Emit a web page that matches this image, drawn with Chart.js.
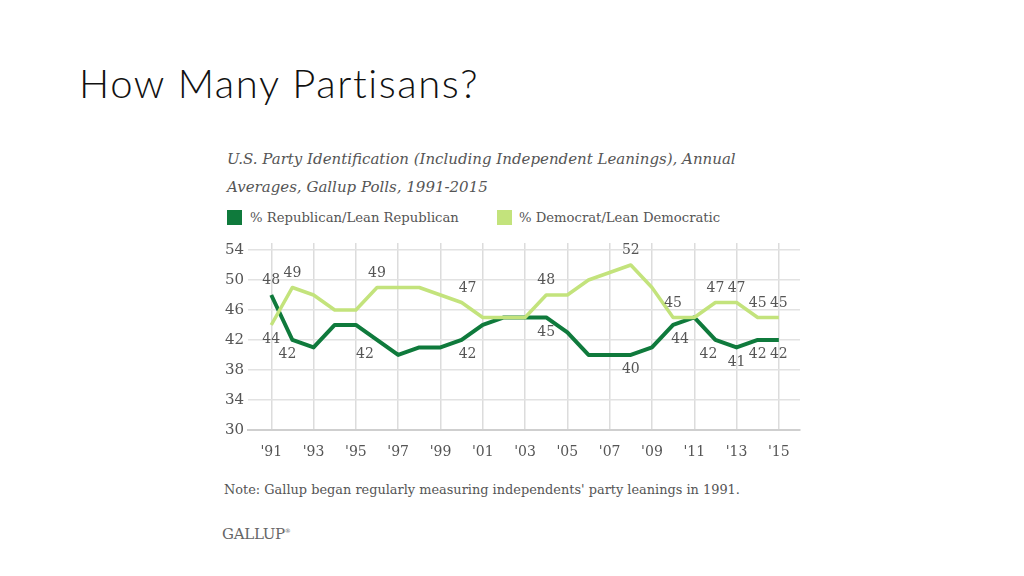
<!DOCTYPE html>
<html>
<head>
<meta charset="utf-8">
<script src="https://cdn.jsdelivr.net/npm/chart.js@4.4.1/dist/chart.umd.min.js"></script>
<style>
  html, body { margin: 0; padding: 0; background: #fff; }
  body { width: 1024px; height: 576px; position: relative; overflow: hidden; }
  .abs { position: absolute; white-space: nowrap; }
  #title { left: 79px; top: 58px; font-family: Lato, "Open Sans", sans-serif; font-weight: 300; font-size: 40px; letter-spacing: 1.6px; color: #111; line-height: 50px; }
  #sub { left: 227px; top: 145px; font-family: "DejaVu Serif", serif; font-style: italic; font-size: 15px; color: #555; line-height: 28px; }
  .leg { top: 208px; font-family: "DejaVu Serif", serif; font-size: 13.2px; color: #555; line-height: 20px; }
  .sw { position: absolute; width: 15px; height: 15px; top: 210px; }
  #note { left: 224px; top: 480px; font-family: "DejaVu Serif", serif; font-size: 12.9px; color: #555; line-height: 20px; }
  #logo { left: 222px; top: 521px; font-family: "DejaVu Serif", serif; font-size: 15px; color: #666; line-height: 20px; letter-spacing: -0.3px; }
  #logo sup { font-size: 6px; }
  canvas { position: absolute; left: 200px; top: 230px; }
</style>
</head>
<body>
<div id="title" class="abs">How Many Partisans?</div>
<div id="sub" class="abs">U.S. Party Identification (Including Independent Leanings), Annual<br>Averages, Gallup Polls, 1991-2015</div>
<div class="sw" style="left:227px;background:#0f7a3c;"></div>
<div class="abs leg" style="left:250px;">% Republican/Lean Republican</div>
<div class="sw" style="left:497px;background:#c3e37c;"></div>
<div class="abs leg" style="left:519px;">% Democrat/Lean Democratic</div>
<div id="note" class="abs">Note: Gallup began regularly measuring independents' party leanings in 1991.</div>
<div id="logo" class="abs">GALLUP<sup>®</sup></div>
<canvas id="c" width="620" height="250"></canvas>
<script>
// ---- data ----
const years = [1991,1992,1993,1994,1995,1996,1997,1998,1999,2000,2001,2002,2003,2004,2005,2006,2007,2008,2009,2010,2011,2012,2013,2014,2015];
const republican = [48,42,41,44,44,42,40,41,41,42,44,45,45,45,43,40,40,40,41,44,45,42,41,42,42];
const democrat   = [44,49,48,46,46,49,49,49,48,47,45,45,45,48,48,50,51,52,49,45,45,47,47,45,45];
const xTickYears = [1991,1993,1995,1997,1999,2001,2003,2005,2007,2009,2011,2013,2015];
const yTickValues = [30,34,38,42,46,50,54];
const seriesNames = ['% Republican/Lean Republican', '% Democrat/Lean Democratic'];

// which points carry a value label: [index, side(-1 above / 1 below), dx]
const repLabels = [[0,-1,0],[1,1,-5],[5,1,-12],[9,1,6],[13,1,0],[17,1,0],[19,1,7],[21,1,-7],[22,1,0],[23,1,0],[24,1,0]];
const demLabels = [[0,1,0],[1,-1,0],[5,-1,0],[9,-1,6],[13,-1,0],[17,-1,0],[19,-1,0],[21,-1,0],[22,-1,0],[23,-1,0],[24,-1,0]];

const DARK = '#0f7a3c', LIGHT = '#c3e37c';

const labelPlugin = {
  id: 'valueLabels',
  afterDatasetsDraw(chart) {
    const ctx = chart.ctx;
    ctx.save();
    ctx.font = '14px "DejaVu Serif", serif';
    ctx.fillStyle = '#555';
    ctx.textAlign = 'center';
    ctx.textBaseline = 'middle';
    const specs = [repLabels, demLabels];
    chart.data.datasets.forEach((ds, di) => {
      const meta = chart.getDatasetMeta(di);
      specs[di].forEach(([i, side, dx]) => {
        const pt = meta.data[i];
        ctx.fillText(String(ds.data[i].y), pt.x + dx, pt.y + side * 14.5);
      });
    });
    ctx.restore();
  }
};

new Chart(document.getElementById('c'), {
  type: 'line',
  data: {
    datasets: [
      { label: seriesNames[0], data: years.map((y, i) => ({ x: y, y: republican[i] })), borderColor: DARK, borderWidth: 4, order: 2 },
      { label: seriesNames[1], data: years.map((y, i) => ({ x: y, y: democrat[i] })), borderColor: LIGHT, borderWidth: 3.5, order: 1 }
    ]
  },
  options: {
    responsive: false,
    animation: false,
    events: [],
    layout: { padding: { top: 13, right: 20, left: 0, bottom: 0 } },
    elements: { point: { radius: 0 }, line: { tension: 0, borderJoinStyle: 'round', borderCapStyle: 'butt' } },
    plugins: { legend: { display: false }, tooltip: { enabled: false } },
    scales: {
      x: {
        type: 'linear', min: 1989.9, max: 2016,
        afterBuildTicks: (s) => { s.ticks = xTickYears.map(v => ({ value: v })); },
        afterFit: (s) => { s.height = 50; },
        grid: { color: '#dcdcdc', lineWidth: 1.5, drawTicks: false },
        border: { display: true, color: '#cfcfcf', width: 2 },
        ticks: { padding: 14, color: '#555', font: { family: '"DejaVu Serif", serif', size: 14 }, maxRotation: 0,
          callback: (v) => "'" + String(v).slice(2) }
      },
      y: {
        min: 30, max: 54.93,
        afterBuildTicks: (s) => { s.ticks = yTickValues.map(v => ({ value: v })); },
        afterFit: (s) => { s.width = 48; },
        grid: { color: (c) => c.tick && c.tick.value === 30 ? 'rgba(0,0,0,0)' : '#e2e2e2', lineWidth: 1.5, drawTicks: false },
        border: { display: false },
        ticks: { padding: 4, color: '#555', font: { family: '"DejaVu Serif", serif', size: 15 } }
      }
    }
  },
  plugins: [labelPlugin]
});
</script>
</body>
</html>
